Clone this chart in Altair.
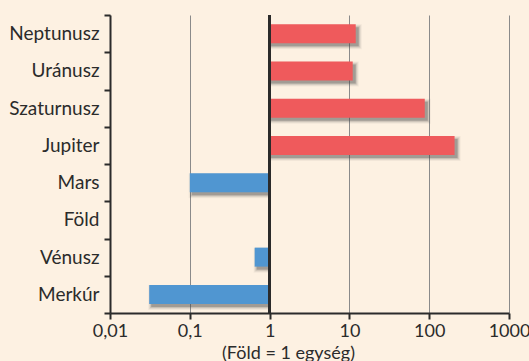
import altair as alt
import pandas as pd

# Planets from outermost to innermost, ratio relative to Earth (Föld = 1)
planets = ["Neptunusz", "Uránusz", "Szaturnusz", "Jupiter", "Mars", "Föld", "Vénusz", "Merkúr"]
values = [12, 11, 88, 208, 0.1, 1, 0.65, 0.031]
tick_values = [0.01, 0.1, 1, 10, 100, 1000]

BG = "#fdf1e2"
RED = "#ef5a5c"
BLUE = "#5096d1"
DARK = "#2b2b2b"
FONT = "Lato"
BAR = 19

df = pd.DataFrame({"bolygo": planets, "ertek": values})
df["kezdo"] = df["ertek"].clip(upper=1)
df["veg"] = df["ertek"].clip(lower=1)
df["csoport"] = ["kulso" if v > 1 else "belso" for v in values]

y_scale = alt.Scale(domain=planets, paddingInner=0, paddingOuter=0)
x_scale = alt.Scale(type="log", domain=[0.01, 1000])

y_enc = alt.Y(
    "bolygo:N", sort=planets, scale=y_scale,
    axis=alt.Axis(
        title=None, tickBand="extent", domainColor=DARK, domainWidth=2,
        tickColor=DARK, tickWidth=2, tickSize=6, labelFontSize=19,
        labelColor=DARK, labelPadding=5, grid=False,
    ),
)
x_enc = alt.X(
    "kezdo:Q", scale=x_scale,
    axis=alt.Axis(
        values=tick_values,
        labelExpr="replace(format(datum.value, '~g'), '.', ',')",
        grid=True, gridColor="#8a8a8a", gridWidth=1,
        domainColor=DARK, domainWidth=2, tickColor=DARK, tickWidth=2,
        tickSize=6, labelFontSize=18, labelColor=DARK, labelPadding=3,
        labelFlush=False,
        title="(Föld = 1 egység)", titleFontSize=18, titleFontWeight="normal",
        titleColor=DARK, titleX=178, titleY=45, titleBaseline="alphabetic",
    ),
)

outer = alt.Chart(df).transform_filter("datum.ertek > 1")
inner = alt.Chart(df).transform_filter("datum.ertek < 1")

# soft drop shadow built from a few widening translucent bars;
# the end touching the Earth line is not widened
shadows = []
for k, op in enumerate([0.3, 0.16, 0.1, 0.06]):
    shadows.append(
        outer.mark_bar(color="#4a4a4a", opacity=op, size=BAR + 2 * k,
                       xOffset=1, x2Offset=3 + k, yOffset=3)
        .encode(y=y_enc, x=x_enc, x2="veg:Q")
    )
    shadows.append(
        inner.mark_bar(color="#4a4a4a", opacity=op, size=BAR + 2 * k,
                       xOffset=2 - k, x2Offset=0, yOffset=3)
        .encode(y=y_enc, x=x_enc, x2="veg:Q")
    )

color_enc = alt.Color("csoport:N",
                      scale=alt.Scale(domain=["kulso", "belso"], range=[RED, BLUE]),
                      legend=None)
bars = alt.Chart(df).transform_filter("datum.ertek != 1").mark_bar(size=BAR).encode(
    y=y_enc, x=x_enc, x2="veg:Q", color=color_enc,
)

# reference line at Earth's value
earth = alt.Chart(df).mark_rule(color=DARK, strokeWidth=2.5).encode(x=alt.datum(1))

chart = alt.layer(*shadows, bars, earth).properties(
    width=399, height=298,
    autosize=alt.AutoSizeParams(type="none"),
    padding={"left": 110, "top": 15, "right": 20, "bottom": 48},
    background=BG,
).configure(font=FONT).configure_view(stroke=None)

chart.save("out.html", embed_options={"renderer": "svg", "actions": False})
